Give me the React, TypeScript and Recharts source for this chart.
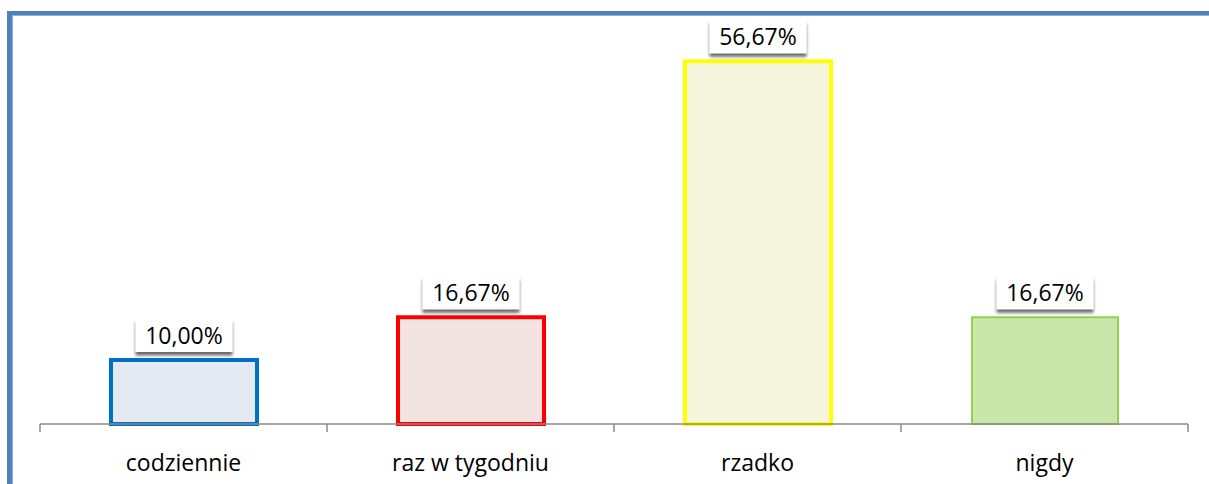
import React from 'react';
import { BarChart, Bar, XAxis, YAxis, Cell, LabelList } from 'recharts';

const categories = ['codziennie', 'raz w tygodniu', 'rzadko', 'nigdy'];
const shares = [10.0, 16.67, 56.67, 16.67];
const strokeColors = ['#0070C0', '#FF0000', '#FFFF00', '#92D050'];
const fillColors = ['#E4EAF2', '#F4E3E3', '#F5F5DD', '#C9E6AB'];
const strokeWidths = [4, 4, 4, 2];

const WIDTH = 1209;
const HEIGHT = 484;
const MARGIN = { top: 40, right: 21, bottom: 30, left: 40 };
const FONT = '"Open Sans", sans-serif';

const data = categories.map((name, i) => ({ name, value: shares[i] }));
const band = (WIDTH - MARGIN.left - MARGIN.right) / categories.length;

const fmt = (v: number) => v.toFixed(2).replace('.', ',') + '%';

const BoxLabel = (props: any) => {
  const { x, y, width, value } = props;
  const cx = x + width / 2;
  const w = 97;
  const h = 33;
  const top = y - 8 - h;
  return (
    <g>
      <rect x={cx - w / 2} y={top} width={w} height={h} fill="#fff" filter="url(#lblShadow)" />
      <text x={cx} y={top + h / 2 - 1} textAnchor="middle" dominantBaseline="central"
        fontFamily={FONT} fontSize={23} fill="#000">
        {fmt(value)}
      </text>
    </g>
  );
};

const CatTick = (props: any) => {
  const { x, y, payload, index } = props;
  const last = index === categories.length - 1;
  return (
    <g>
      <line x1={x - band / 2} y1={y} x2={x - band / 2} y2={y + 8} stroke="#888" strokeWidth={1.5} />
      {last && <line x1={x + band / 2} y1={y} x2={x + band / 2} y2={y + 8} stroke="#888" strokeWidth={1.5} />}
      <text x={x} y={y + 38} textAnchor="middle" dominantBaseline="central"
        fontFamily={FONT} fontSize={23} fill="#000">
        {payload.value}
      </text>
    </g>
  );
};

export default function App() {
  return (
    <div style={{ position: 'absolute', left: 0, top: 0, width: WIDTH, height: HEIGHT, overflow: 'hidden', background: '#fff' }}>
      <div style={{
        position: 'absolute', left: 7, top: 11, width: 1300, height: 600,
        borderLeft: '5px solid #4F81BD', borderTop: '4px solid #4F81BD', boxShadow: 'inset 1px 1px 0 #8EB0DA',
      }} />
      <div style={{ position: 'absolute', left: 0, top: 0 }}>
        <BarChart width={WIDTH} height={HEIGHT} data={data} margin={MARGIN}>
          <defs>
            <filter id="lblShadow" x="-20%" y="-20%" width="140%" height="170%">
              <feDropShadow dx={0} dy={3.5} stdDeviation={1.8} floodColor="#444" floodOpacity={0.8} />
            </filter>
          </defs>
          <YAxis hide domain={[0, 60]} />
          <XAxis dataKey="name" height={30} tickSize={0} tickMargin={0} tick={<CatTick />}
            axisLine={{ stroke: '#888', strokeWidth: 1.5 }} interval={0} />
          <Bar dataKey="value" barSize={146} isAnimationActive={false}>
            {data.map((d, i) => (
              <Cell key={d.name} fill={fillColors[i]} stroke={strokeColors[i]} strokeWidth={strokeWidths[i]} />
            ))}
            <LabelList dataKey="value" content={<BoxLabel />} />
          </Bar>
        </BarChart>
      </div>
    </div>
  );
}
